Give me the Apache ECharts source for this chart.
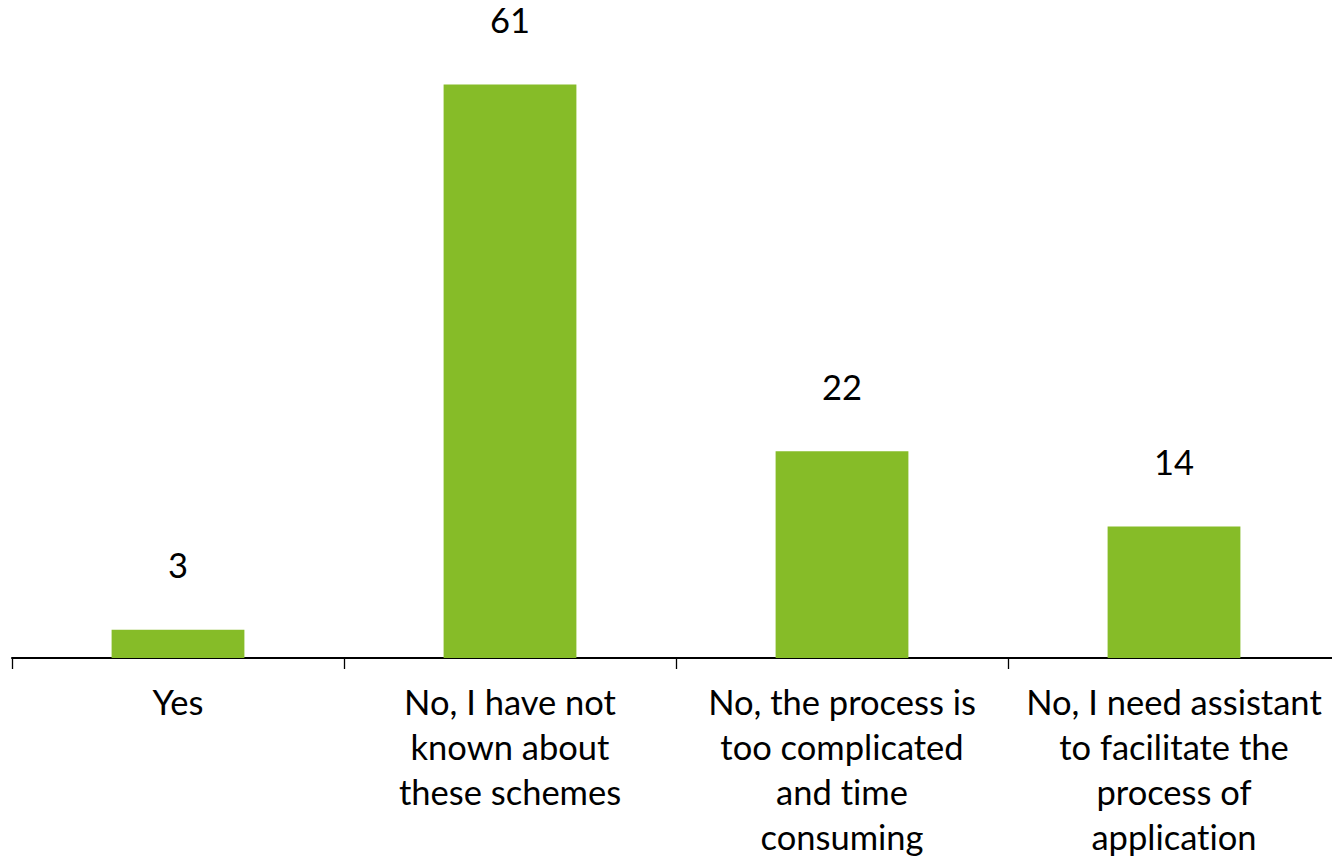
<!DOCTYPE html>
<html>
<head>
<meta charset="utf-8">
<script src="https://cdn.jsdelivr.net/npm/echarts@6/dist/echarts.min.js"></script>
<style>
  html, body { margin: 0; padding: 0; background: #fff; }
  #chart { width: 1332px; height: 857px; }
  #chart text { font-variant-ligatures: none; font-feature-settings: "liga" 0, "dlig" 0, "clig" 0; }
</style>
</head>
<body>
<div id="chart"></div>
<script>
// Survey answers and their counts
const categories = [
  'Yes',
  'No, I have not\nknown about\nthese schemes',
  'No, the process is\ntoo complicated\nand time\nconsuming',
  'No, I need assistant\nto facilitate the\nprocess of\napplication'
];
const values = [3, 61, 22, 14];

const FONT = 'Lato';

const chart = echarts.init(document.getElementById('chart'), null, { renderer: 'svg' });
chart.setOption({
  animation: false,
  backgroundColor: '#ffffff',
  grid: {
    left: 12, top: 0, width: 1328, height: 658,
    containLabel: false,
    outerBoundsMode: 'none'
  },
  xAxis: {
    type: 'category',
    data: categories,
    boundaryGap: true,
    axisLine: { show: true, lineStyle: { color: '#000', width: 2 } },
    axisTick: { show: true, length: 11, alignWithLabel: false, lineStyle: { color: '#000', width: 1.3 } },
    axisLabel: {
      interval: 0,
      margin: 21,
      color: '#000',
      fontFamily: FONT,
      fontSize: 34.5,
      lineHeight: 45,
      align: 'center'
    }
  },
  yAxis: {
    type: 'value',
    min: 0,
    max: 70,
    show: false,
    splitLine: { show: false }
  },
  series: [{
    type: 'bar',
    data: values,
    barWidth: '40%',
    itemStyle: { color: '#86BC28' },
    label: {
      show: true,
      position: 'top',
      distance: 47,
      color: '#000',
      fontFamily: FONT,
      fontSize: 34.5,
      lineHeight: 36
    }
  }]
});
</script>
</body>
</html>
